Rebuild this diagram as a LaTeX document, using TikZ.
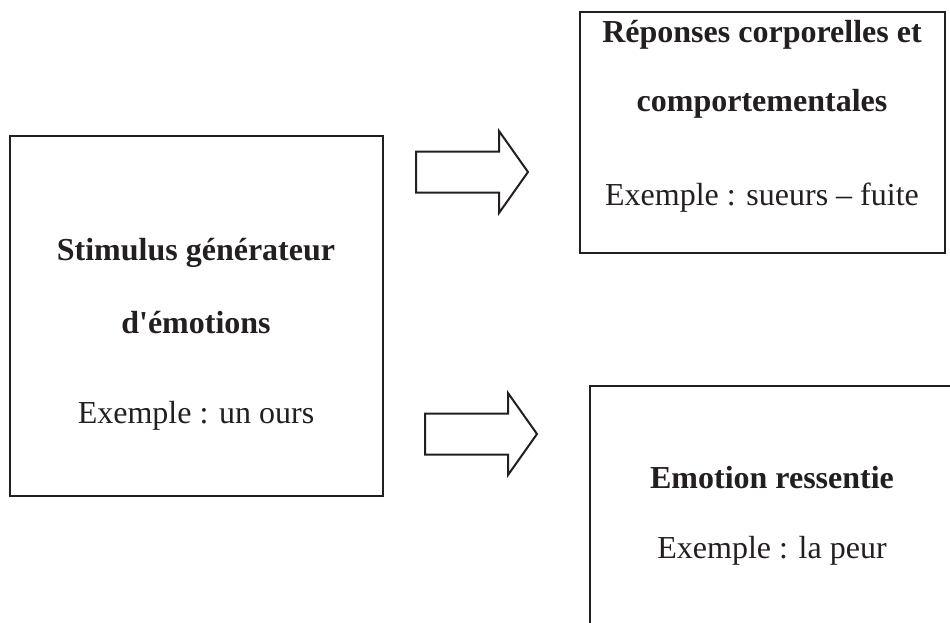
\documentclass[tikz,border=0pt]{standalone}
\usepackage{fontspec}
\setmainfont{Liberation Serif}
\newfontfamily\rawserif{Liberation Serif}
\usetikzlibrary{calc}
\definecolor{ink}{RGB}{35,31,32}
\begin{document}
\begin{tikzpicture}[x=1pt,y=-1pt,
  box/.style={draw=ink,line width=2.6pt,rectangle,inner sep=0pt,outer sep=0pt},
  boldtxt/.style={anchor=base,inner sep=0pt,text=ink,font=\fontsize{32}{38}\selectfont\bfseries},
  plaintxt/.style={anchor=base,inner sep=0pt,text=ink,font=\fontsize{32}{38}\selectfont},
  blockarrow/.style={draw=ink,line width=2pt,line join=miter,fill=white}]
\useasboundingbox (0,0) rectangle (950,623);
\clip (0,0) rectangle (950,623);
\fill[white] (0,0) rectangle (950,623);
% boxes
\node[box,minimum width=373pt,minimum height=360pt] (stim) at (196.5,316) {};
\node[box,minimum width=365pt,minimum height=241pt] (rep) at (762.5,132.5) {};
\node[box,minimum width=364pt,minimum height=320pt] (emo) at (772,546) {};
% texts
\node[boldtxt] (s1) at (196,260) {Stimulus générateur};
\node[boldtxt] (s2) at (196,333) {{\rawserif\bfseries d'émotions}};
\node[plaintxt] (s3) at (196,423) {Exemple : un ours};
\node[boldtxt] (r1) at (762,43) {Réponses corporelles et};
\node[boldtxt] (r2) at (762,112) {comportementales};
\node[plaintxt] (r3) at (762,205) {Exemple : sueurs – fuite};
\node[boldtxt] (e1) at (772,488) {Emotion ressentie};
\node[plaintxt] (e2) at (772,558) {Exemple : la peur};
% block arrows
\coordinate (a1) at (416,172);
\coordinate (a2) at (425,434);
\foreach \c in {a1,a2}{
  \draw[blockarrow] ($(\c)+(0,-20.5)$) -- ++(83,0) -- ++(0,-20.5) -- ($(\c)+(112,0)$)
     -- ($(\c)+(83,41)$) -- ++(0,-20.5) -- ($(\c)+(0,20.5)$) -- cycle;
}
\end{tikzpicture}
\end{document}
